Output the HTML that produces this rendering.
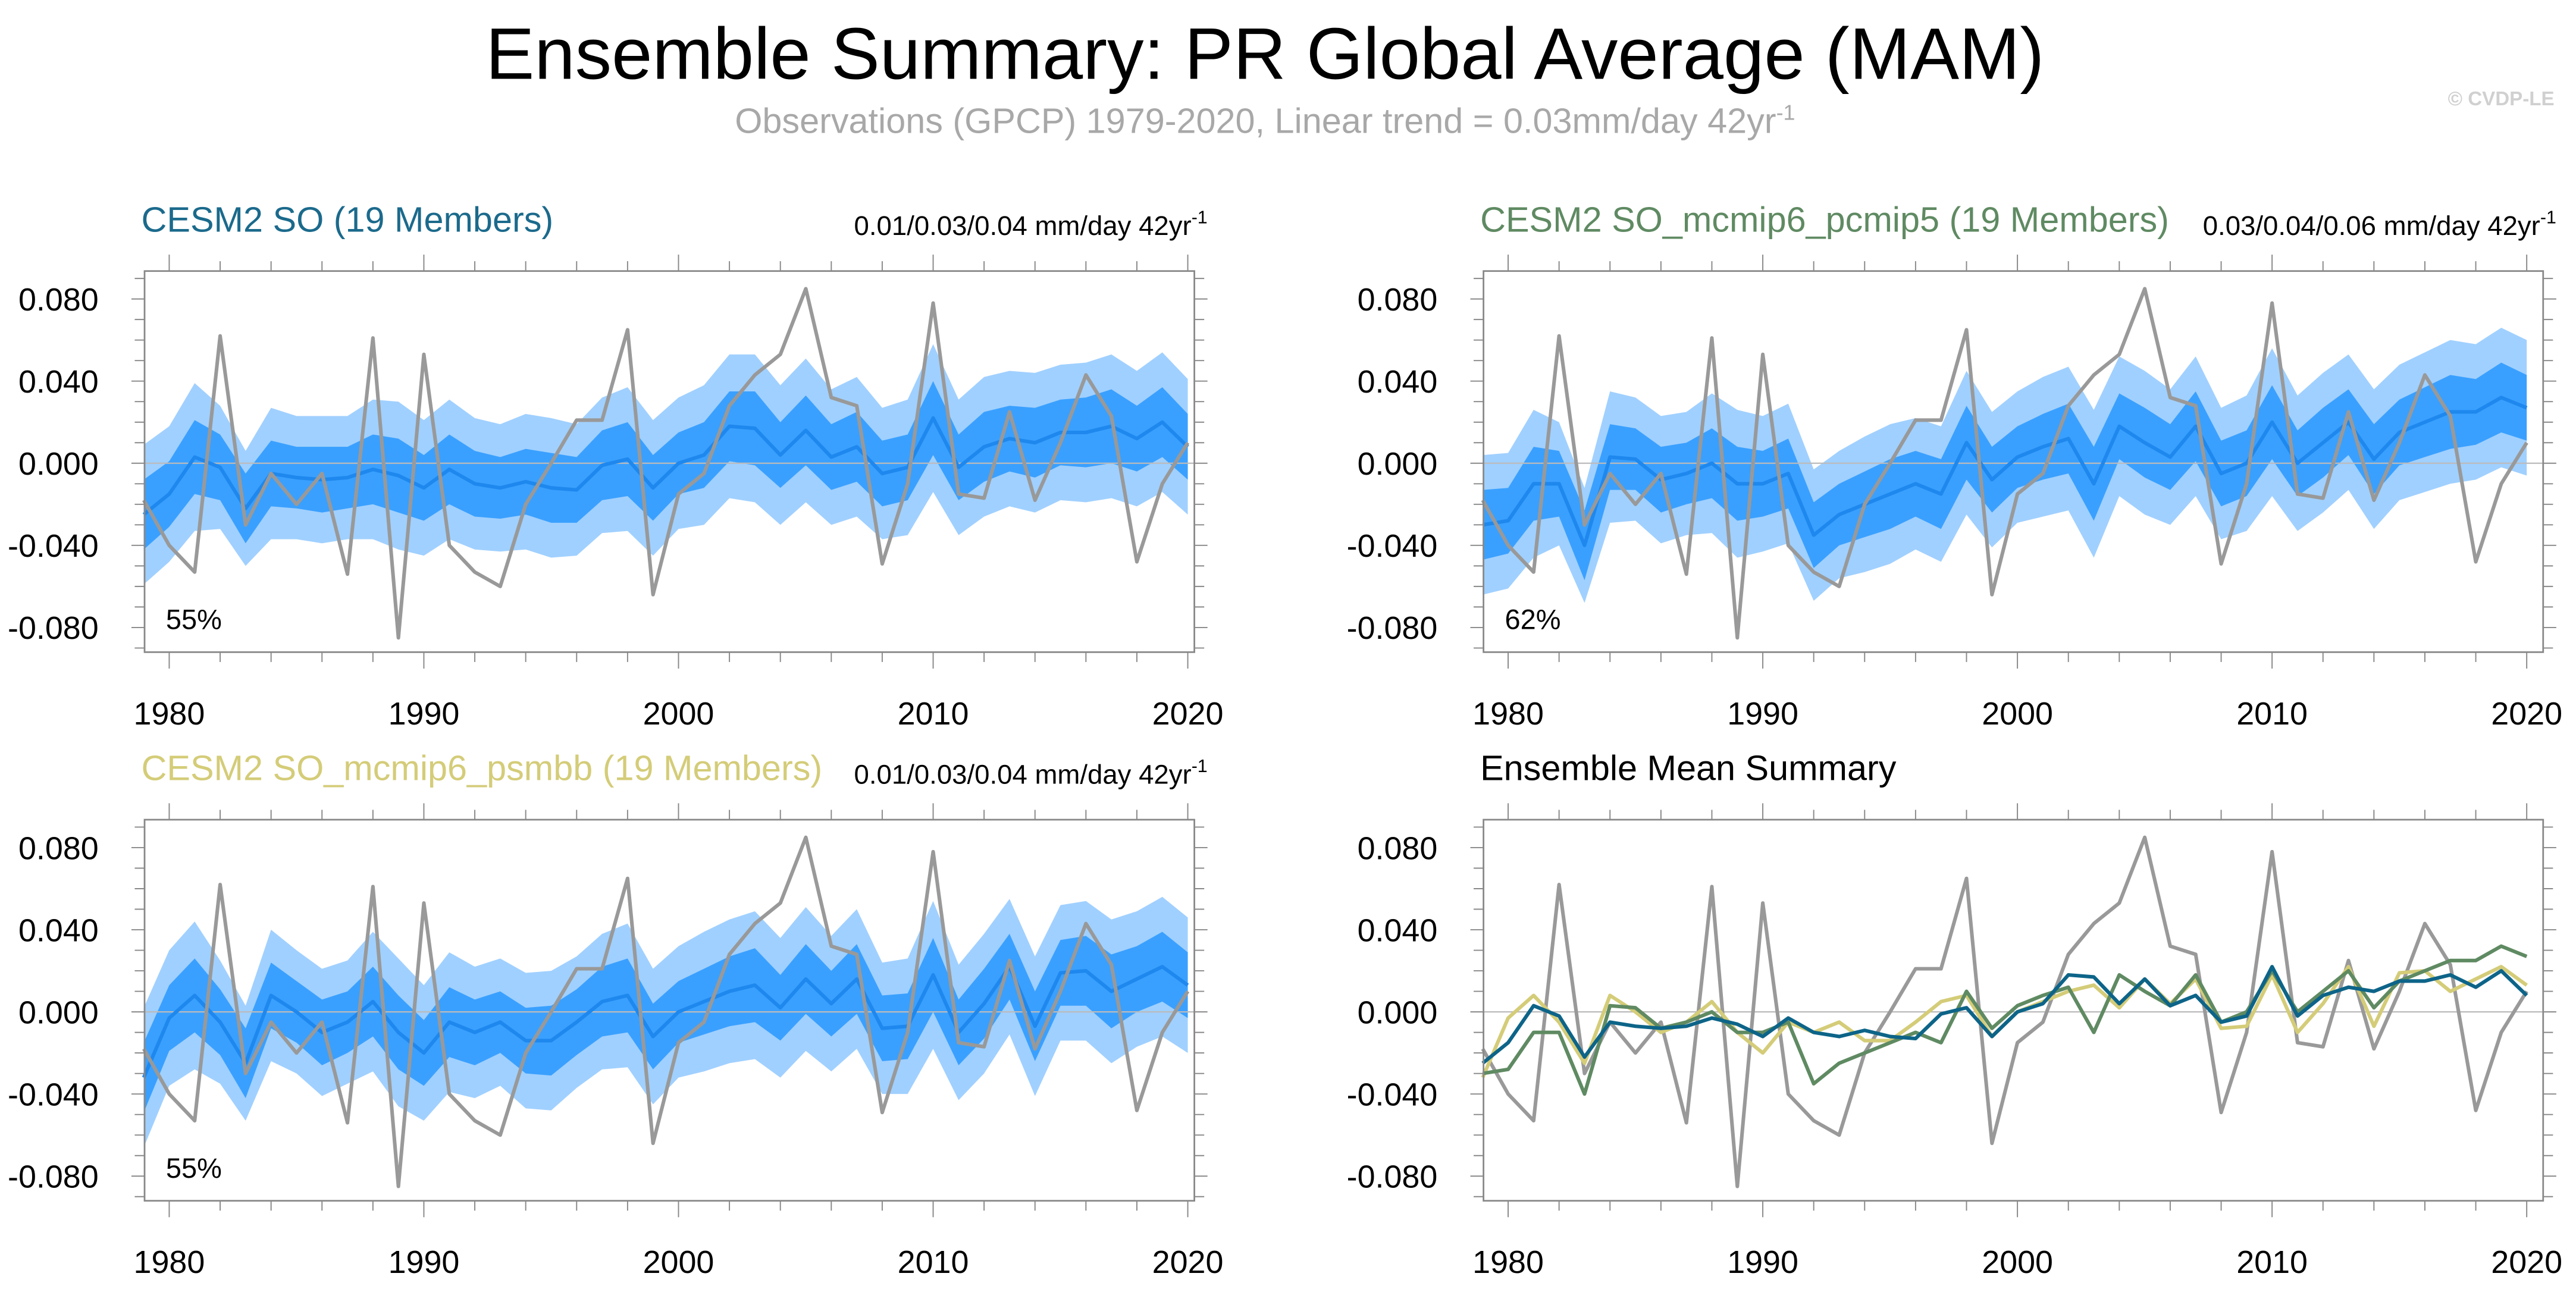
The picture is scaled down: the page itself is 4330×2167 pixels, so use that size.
<!DOCTYPE html>
<html><head><meta charset="utf-8"><style>
html,body{margin:0;padding:0;background:#fff;}
svg{display:block;font-family:"Liberation Sans",sans-serif;}
</style></head><body>
<svg id="chart" width="4330" height="2167" viewBox="0 0 1568 784.7" xmlns="http://www.w3.org/2000/svg">
<text x="770" y="48" font-size="44.5" text-anchor="middle" fill="#000">Ensemble Summary: PR Global Average (MAM)</text>
<text x="770" y="81" font-size="21.5" text-anchor="middle" fill="#a8a8a8">Observations (GPCP) 1979-2020, Linear trend = 0.03mm/day 42yr<tspan dy="-8" font-size="13">-1</tspan></text>
<text x="1490" y="64" font-size="12" font-weight="bold" fill="#d0d0d0">© CVDP-LE</text>
<g id="panels"></g>
</svg>
<script>
const years = [];
for (let y = 1979; y <= 2020; y++) years.push(y);
const obs = [-0.018,-0.04,-0.053,0.062,-0.03,-0.005,-0.02,-0.005,-0.054,0.061,-0.085,0.053,-0.04,-0.053,-0.06,-0.02,0.0,0.021,0.021,0.065,-0.064,-0.015,-0.005,0.028,0.043,0.053,0.085,0.032,0.028,-0.049,-0.01,0.078,-0.015,-0.017,0.025,-0.018,0.01,0.043,0.023,-0.048,-0.01,0.01];
const mean1 = [-0.025,-0.015,0.003,-0.002,-0.022,-0.005,-0.007,-0.008,-0.007,-0.003,-0.006,-0.012,-0.003,-0.01,-0.012,-0.009,-0.012,-0.013,-0.001,0.002,-0.012,0.0,0.004,0.018,0.017,0.004,0.016,0.003,0.008,-0.005,-0.002,0.022,-0.002,0.008,0.012,0.01,0.015,0.015,0.018,0.012,0.02,0.008];
const mean2 = [-0.03,-0.028,-0.01,-0.01,-0.04,0.003,0.002,-0.008,-0.005,0.0,-0.01,-0.01,-0.005,-0.035,-0.025,-0.02,-0.015,-0.01,-0.015,0.01,-0.008,0.003,0.008,0.012,-0.01,0.018,0.01,0.003,0.018,-0.005,0.0,0.02,0.0,0.01,0.02,0.002,0.015,0.02,0.025,0.025,0.032,0.027];
const mean3 = [-0.032,-0.003,0.008,-0.005,-0.025,0.008,0.0,-0.01,-0.005,0.005,-0.01,-0.02,-0.005,-0.01,-0.005,-0.014,-0.014,-0.005,0.005,0.008,-0.012,0.0,0.005,0.01,0.013,0.002,0.016,0.004,0.016,-0.008,-0.007,0.018,-0.01,0.004,0.022,-0.007,0.019,0.02,0.01,0.016,0.022,0.013];
const innerHalf = [0.017,0.016,0.018,0.016,0.017,0.016,0.015,0.016,0.015,0.017,0.018,0.016,0.017,0.016,0.015,0.016,0.017,0.016,0.017,0.018,0.016,0.015,0.016,0.017,0.018,0.016,0.017,0.016,0.017,0.016,0.016,0.018,0.016,0.017,0.016,0.017,0.016,0.017,0.018,0.016,0.017,0.016];
const outerHalf = [0.034,0.033,0.036,0.03,0.028,0.032,0.03,0.031,0.03,0.034,0.036,0.033,0.034,0.032,0.031,0.033,0.034,0.032,0.033,0.035,0.033,0.032,0.034,0.035,0.036,0.034,0.035,0.033,0.034,0.032,0.033,0.036,0.033,0.034,0.033,0.034,0.033,0.034,0.035,0.033,0.034,0.033];
const yTicks = [0.08,0.04,0.0,-0.04,-0.08];
const yTickLabels = ["0.080","0.040","0.000","-0.040","-0.080"];
const xTicks = [1980,1990,2000,2010,2020];

const NS = "http://www.w3.org/2000/svg";
const root = document.getElementById('panels');
function mk(tag, attrs, parent){ const e=document.createElementNS(NS,tag); for(const k in attrs) e.setAttribute(k,attrs[k]); (parent||root).appendChild(e); return e; }

const panels = [
 {x0:88,x1:727,yr0:103,yz:282,title:"CESM2 SO (19 Members)",tc:"#1b6a8c",trend:"0.01/0.03/0.04 mm/day 42yr",pct:"55%",mean:mean1,key:"cesm2-so"},
 {x0:903,x1:1548,yr0:918,yz:282,title:"CESM2 SO_mcmip6_pcmip5 (19 Members)",tc:"#5f8a62",trend:"0.03/0.04/0.06 mm/day 42yr",pct:"62%",mean:mean2,key:"cesm2-pcmip5"},
 {x0:88,x1:727,yr0:103,yz:616,title:"CESM2 SO_mcmip6_psmbb (19 Members)",tc:"#d4cc78",trend:"0.01/0.03/0.04 mm/day 42yr",pct:"55%",mean:mean3,key:"cesm2-psmbb"},
 {x0:903,x1:1548,yr0:918,yz:616,title:"Ensemble Mean Summary",tc:"#000",trend:null,pct:null,mean:null,key:"ensemble-mean"}
];

panels.forEach(p=>{
  const g = mk('g',{});
  
  
  const X = yr => p.yr0 + (yr-1980)*15.5;
  const Y = v => p.yz - v*1250;
  const top = p.yz-117, bot = p.yz+115;
  const t = mk('text',{x:p.x0-2,y:p.yz-141,'font-size':21.5,fill:p.tc},g);
  t.textContent = p.title;
  
  
  if(p.trend){
    const tr = mk('text',{x:p.x1+8,y:p.yz-139,'font-size':16.5,'text-anchor':'end',fill:'#000'},g);
    tr.textContent = p.trend;
    const sp = mk('tspan',{dy:-7,'font-size':11},tr); sp.textContent='-1';
    
    
  }
  if(p.mean){
    const m=p.mean;
    const band=(half,fill,name)=>{
      let d=years.map((yr,i)=>(i?'L':'M')+X(yr).toFixed(2)+','+Y(m[i]+half[i]).toFixed(2)).join('');
      for(let i=years.length-1;i>=0;i--) d+='L'+X(years[i]).toFixed(2)+','+Y(m[i]-half[i]).toFixed(2);
      const e=mk('path',{d:d+'Z',fill:fill},g);
      
      
    };
    band(outerHalf,'#a0d0ff','outer-spread-band');
    band(innerHalf,'#3aa0ff','inner-spread-band');
  }
  mk('line',{x1:p.x0,x2:p.x1,y1:Y(0),y2:Y(0),stroke:'#bbb','stroke-width':0.8},g);
  const line=(arr,color,w,name)=>{
    const d=years.map((yr,i)=>(i?'L':'M')+X(yr).toFixed(2)+','+Y(arr[i]).toFixed(2)).join('');
    const e=mk('path',{d:d,fill:'none',stroke:color,'stroke-width':w,'stroke-linejoin':'round'},g);
    
    
  };
  if(p.mean){
    line(p.mean,'#1e88ee',2.2,'ensemble-mean-line');
    line(obs,'#999',2.2,'observations-line');
  } else {
    line(obs,'#999',2.2,'observations-line');
    line(mean3,'#d4cc78',2.2,'psmbb-mean-line');
    line(mean2,'#5f8a62',2.2,'pcmip5-mean-line');
    line(mean1,'#0d6488',2.2,'so-mean-line');
  }
  mk('rect',{x:p.x0,y:top,width:p.x1-p.x0,height:bot-top,fill:'none',stroke:'#888','stroke-width':1},g);
  for(let v=-0.09;v<=0.0901;v+=0.01){
    const yy=Y(v);
    if(yy<top||yy>bot) continue;
    const major = Math.abs(Math.round(v*100)%4)===0;
    mk('line',{x1:p.x0,x2:p.x0-(major?8:6),y1:yy,y2:yy,stroke:'#888','stroke-width':0.7},g);
    mk('line',{x1:p.x1,x2:p.x1+(major?8:6),y1:yy,y2:yy,stroke:'#888','stroke-width':0.7},g);
  }
  yTicks.forEach((v,i)=>{
    const e=mk('text',{x:p.x0-28,y:Y(v)+7,'font-size':19.5,'text-anchor':'end',fill:'#000'},g);
    e.textContent=yTickLabels[i];
    
    
  });
  for(let yr=1980; yr<=2020; yr+=2){
    const major = yr%10===0;
    const xx=X(yr);
    mk('line',{x1:xx,x2:xx,y1:bot,y2:bot+(major?10:6),stroke:'#888','stroke-width':0.7},g);
    mk('line',{x1:xx,x2:xx,y1:top,y2:top-(major?10:6),stroke:'#888','stroke-width':0.7},g);
  }
  xTicks.forEach(yr=>{
    const e=mk('text',{x:X(yr),y:bot+44,'font-size':19.5,'text-anchor':'middle',fill:'#000'},g);
    e.textContent=String(yr);
    
    
  });
  if(p.pct){
    const e=mk('text',{x:p.x0+13,y:p.yz+101,'font-size':17,fill:'#000'},g);
    e.textContent=p.pct;
    
    
  }
});
</script>
</body></html>
